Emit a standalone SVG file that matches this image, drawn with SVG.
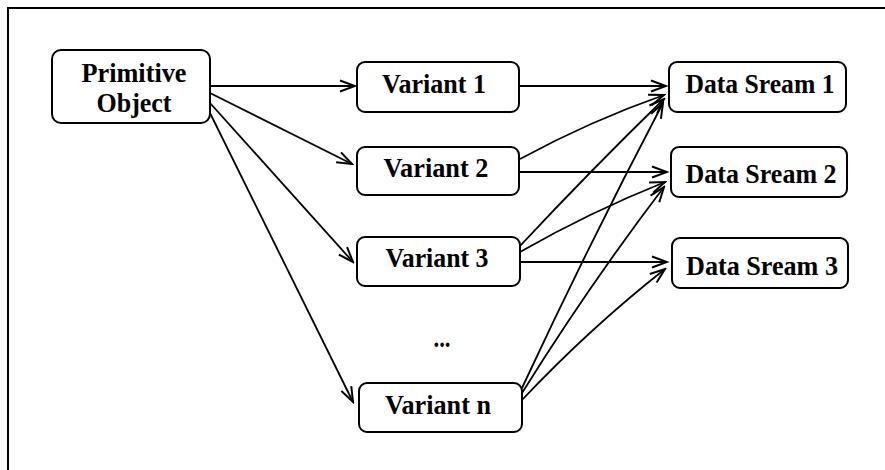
<svg xmlns="http://www.w3.org/2000/svg" width="885" height="470" viewBox="0 0 885 470">
<style>
.box{fill:#fff;stroke:#000;stroke-width:2}
.t{font-family:"Liberation Serif","Times New Roman",serif;font-weight:bold;font-size:28px;fill:#000;text-anchor:middle}
.c{fill:none;stroke:#000;stroke-width:1.8}
</style>
<defs>
<marker id="ah" viewBox="-17 -8 19 16" markerWidth="19" markerHeight="16" refX="0" refY="0" orient="auto" markerUnits="userSpaceOnUse">
<path d="M-15,-5.5 L0,0 L-15,5.5" fill="none" stroke="#000" stroke-width="2"/>
</marker>
</defs>
<rect width="885" height="470" fill="#fff"/>
<path d="M8,470 L8,8 L885,8" fill="none" stroke="#000" stroke-width="2"/>
<g id="connectors">
<path class="c" marker-end="url(#ah)" d="M210,86 L355,86"/>
<path class="c" marker-end="url(#ah)" d="M210,93 L352,164"/>
<path class="c" marker-end="url(#ah)" d="M210,103 L353,262"/>
<path class="c" marker-end="url(#ah)" d="M210,113 L353,402"/>
<path class="c" marker-end="url(#ah)" d="M519,86 L666,86"/>
<path class="c" marker-end="url(#ah)" d="M520,159 Q590,121 664,95"/>
<path class="c" marker-end="url(#ah)" d="M519,172 L667,172"/>
<path class="c" marker-end="url(#ah)" d="M520,246 Q592,169 664,99"/>
<path class="c" marker-end="url(#ah)" d="M520,252 Q590,212 665,182"/>
<path class="c" marker-end="url(#ah)" d="M520,262 L667,262"/>
<path class="c" marker-end="url(#ah)" d="M522,388 Q590,242 663,103"/>
<path class="c" marker-end="url(#ah)" d="M522,393 Q590,284 664,187"/>
<path class="c" marker-end="url(#ah)" d="M522,400 Q590,328 665,269"/>
</g>
<g id="primitive">
<rect class="box" x="52" y="50" width="158" height="73" rx="9"/>
<text class="t" x="134" y="82" textLength="105" lengthAdjust="spacingAndGlyphs">Primitive</text>
<text class="t" x="134" y="112" textLength="75" lengthAdjust="spacingAndGlyphs">Object</text>
</g>
<g id="variant1">
<rect class="box" x="357" y="62" width="162" height="50" rx="8"/>
<text class="t" x="434" y="93" textLength="104" lengthAdjust="spacingAndGlyphs">Variant 1</text>
</g>
<g id="variant2">
<rect class="box" x="357" y="147" width="162" height="48" rx="8"/>
<text class="t" x="436" y="177" textLength="105" lengthAdjust="spacingAndGlyphs">Variant 2</text>
</g>
<g id="variant3">
<rect class="box" x="357" y="237" width="163" height="49" rx="8"/>
<text class="t" x="437" y="267" textLength="103" lengthAdjust="spacingAndGlyphs">Variant 3</text>
</g>
<g id="dots">
<text class="t" x="442" y="347" textLength="17" lengthAdjust="spacingAndGlyphs">...</text>
</g>
<g id="variantn">
<rect class="box" x="359" y="383" width="163" height="49" rx="8"/>
<text class="t" x="438" y="414" textLength="106" lengthAdjust="spacingAndGlyphs">Variant n</text>
</g>
<g id="ds1">
<rect class="box" x="669" y="62" width="177" height="50" rx="8"/>
<text class="t" x="760" y="93" textLength="149" lengthAdjust="spacingAndGlyphs">Data Sream 1</text>
</g>
<g id="ds2">
<rect class="box" x="671" y="147" width="176" height="50" rx="8"/>
<text class="t" x="761" y="183" textLength="151" lengthAdjust="spacingAndGlyphs">Data Sream 2</text>
</g>
<g id="ds3">
<rect class="box" x="672" y="238" width="176" height="50" rx="8"/>
<text class="t" x="762" y="275" textLength="152" lengthAdjust="spacingAndGlyphs">Data Sream 3</text>
</g>
</svg>
